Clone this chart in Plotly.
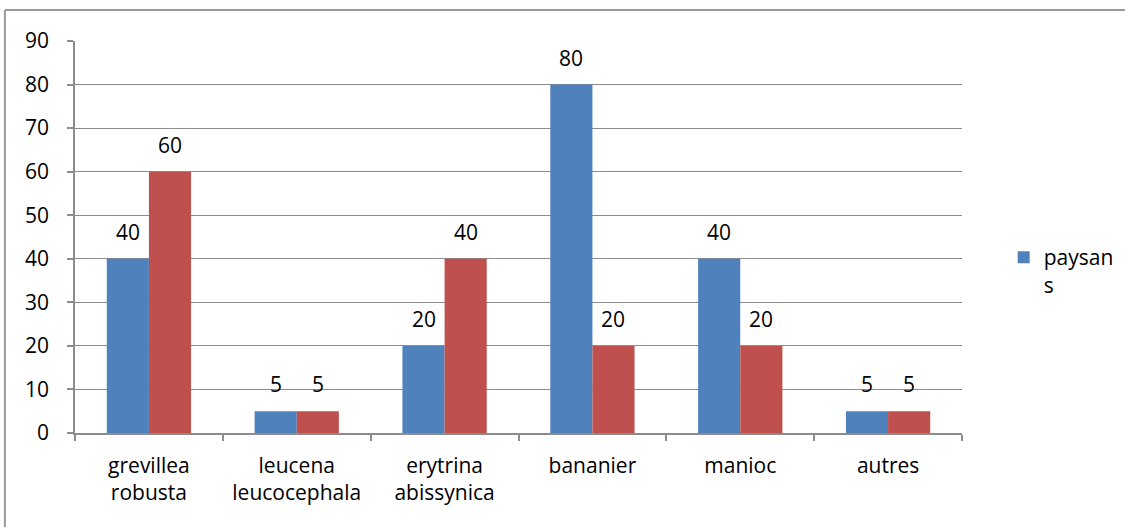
import plotly.graph_objects as go

categories = ["grevillea<br>robusta", "leucena<br>leucocephala", "erytrina<br>abissynica",
              "bananier", "manioc", "autres"]
paysans = [40, 5, 20, 80, 40, 5]
second_series = [60, 5, 40, 20, 20, 5]
y_ticks = [0, 10, 20, 30, 40, 50, 60, 70, 80, 90]

BLUE = "#4F81BD"
RED = "#C0504D"
GRID = "#8C8C8C"
FONT = "Open Sans"
SIZE = 21

fig = go.Figure()
fig.add_trace(go.Bar(
    x=categories, y=paysans, name="paysan<br>s",
    marker=dict(color=BLUE, line=dict(width=0)),
))
fig.add_trace(go.Bar(
    x=categories, y=second_series, name="", showlegend=False,
    marker=dict(color=RED, line=dict(width=0)),
))

# value labels floating above each bar
for values, shift in ((paysans, -21), (second_series, 21)):
    for cat, val in zip(categories, values):
        fig.add_annotation(x=cat, y=val, text=str(val), showarrow=False,
                           xshift=shift, yshift=27, yanchor="middle",
                           font=dict(family=FONT, size=SIZE, color="black"))

# outer chart frame (top and left edges visible)
fig.add_shape(type="line", xref="paper", yref="paper",
              x0=-0.079, x1=1.3, y0=1.079, y1=1.079,
              line=dict(color="#999999", width=2))
fig.add_shape(type="line", xref="paper", yref="paper",
              x0=-0.079, x1=-0.079, y0=1.079, y1=-0.4,
              line=dict(color="#999999", width=2))

fig.update_layout(
    width=1125, height=527,
    margin=dict(l=75, r=163, t=41, b=94, autoexpand=False),
    paper_bgcolor="white", plot_bgcolor="white",
    barmode="group", bargap=0.43, bargroupgap=0,
    font=dict(family=FONT, size=SIZE, color="black"),
    showlegend=True,
    legend=dict(x=1.047, y=0.50, xanchor="left", yanchor="top", valign="top",
                font=dict(family=FONT, size=SIZE, color="black"),
                itemwidth=30, bgcolor="rgba(0,0,0,0)"),
    xaxis=dict(showline=True, linecolor=GRID, linewidth=1.5,
               ticks="outside", ticklen=6, tickcolor=GRID, tickwidth=1.5,
               tickson="boundaries", showgrid=False, ticklabelstandoff=13,
               tickfont=dict(family=FONT, size=SIZE, color="black")),
    yaxis=dict(range=[0, 90], tickvals=y_ticks, showline=True, linecolor=GRID,
               linewidth=1.5, ticks="outside", ticklen=6, tickcolor=GRID,
               tickwidth=1.5, showgrid=True, gridcolor=GRID, gridwidth=1.2,
               zeroline=False, ticklabelstandoff=14,
               tickfont=dict(family=FONT, size=SIZE, color="black")),
)

fig.write_html("out.html")
